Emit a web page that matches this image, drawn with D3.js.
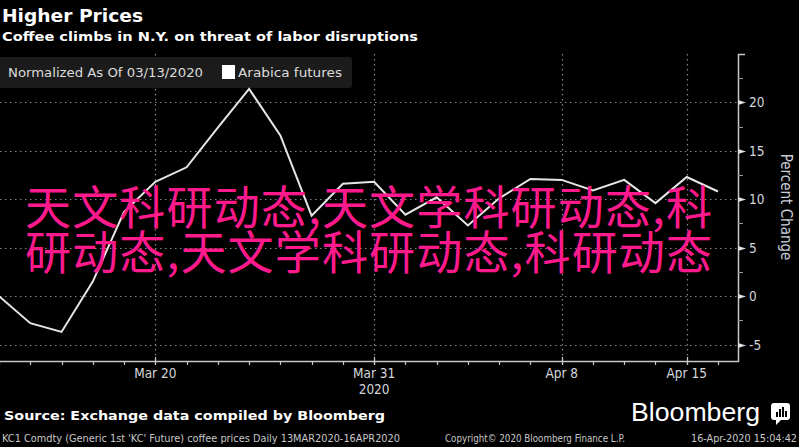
<!DOCTYPE html>
<html>
<head>
<meta charset="utf-8">
<script src="https://cdn.jsdelivr.net/npm/d3@7"></script>
<style>
  html, body { margin: 0; padding: 0; background: #000; }
  body { position: relative; width: 799px; height: 447px; overflow: hidden; }
  svg { display: block; position: absolute; left: 0; top: 0; }
</style>
</head>
<body>
<svg id="chart" width="799" height="447"></svg>
<script>
// ---- data ----
const dates = ["2020-03-13","2020-03-16","2020-03-17","2020-03-18","2020-03-19","2020-03-20",
  "2020-03-23","2020-03-24","2020-03-25","2020-03-26","2020-03-27","2020-03-30","2020-03-31",
  "2020-04-01","2020-04-02","2020-04-03","2020-04-06","2020-04-07","2020-04-08","2020-04-09",
  "2020-04-13","2020-04-14","2020-04-15","2020-04-16"];
const arabica = [0, -2.8, -3.7, 1.5, 8.7, 11.8, 13.3, 17.4, 21.4, 16.6, 8.3, 11.6, 11.8,
  8.4, 10.2, 7.3, 10.1, 12.1, 12.0, 10.9, 12.0, 9.6, 12.3, 10.8];
const xMajorDates = ["2020-03-20","2020-03-31","2020-04-08","2020-04-15"];
const xMajorLabels = ["Mar 20","Mar 31","Apr 8","Apr 15"];
const yMajorTicks = [-5, 0, 5, 10, 15, 20];
const yMinorTicks = [-2.5, 2.5, 7.5, 12.5, 17.5, 22.5];
const yDomain = [-6.6, 25];
const overlayLines = ["天文科研动态,天文学科研动态,科", "研动态,天文学科研动态,科研动态"];

const svg = d3.select("#chart");
const W = 799, H = 447;
const plotLeft = 0, plotRight = 738, plotTop = 54, plotBottom = 361;

svg.append("rect").attr("width", W).attr("height", H).attr("fill", "#000");

const x = d3.scalePoint().domain(dates).range([-1, 718]);
const y = d3.scaleLinear().domain(yDomain).range([plotBottom - 1, plotTop]);

const condensed = "'Liberation Sans Narrow','DejaVu Sans Condensed','Roboto Condensed','Liberation Sans',sans-serif";
const tahoma = "'DejaVu Sans','Noto Sans',sans-serif";

// ---- gridlines ----
const grid = svg.append("g");
grid.selectAll("line.h").data(yMajorTicks).join("line")
  .attr("x1", plotLeft).attr("x2", plotRight)
  .attr("y1", d => Math.round(y(d)) + 0.5).attr("y2", d => Math.round(y(d)) + 0.5)
  .attr("stroke", "#858585").attr("stroke-width", 1.2).attr("stroke-dasharray", "1.5,3.5");
grid.selectAll("line.v").data(xMajorDates).join("line")
  .attr("x1", d => Math.round(x(d)) + 0.5).attr("x2", d => Math.round(x(d)) + 0.5)
  .attr("y1", plotTop).attr("y2", plotBottom)
  .attr("stroke", "#858585").attr("stroke-width", 1.2).attr("stroke-dasharray", "1.5,3.5");

// ---- legend ----
const leg = svg.append("g");
leg.append("rect").attr("x", -6).attr("y", 57).attr("width", 358).attr("height", 31)
  .attr("rx", 3).attr("fill", "#1b1b1b");
leg.append("text").attr("x", 8).attr("y", 77).text("Normalized As Of 03/13/2020")
  .attr("fill", "#dcdcdc").attr("font-family", tahoma).attr("font-size", 13)
  .attr("textLength", 195).attr("lengthAdjust", "spacingAndGlyphs");
leg.append("rect").attr("x", 222).attr("y", 65).attr("width", 13).attr("height", 14)
  .attr("fill", "#ffffff");
leg.append("text").attr("x", 238).attr("y", 77).text("Arabica futures")
  .attr("fill", "#dcdcdc").attr("font-family", tahoma).attr("font-size", 13)
  .attr("textLength", 104).attr("lengthAdjust", "spacingAndGlyphs");

// ---- line ----
const line = d3.line().x((d, i) => x(dates[i])).y(d => y(d));
svg.append("path").datum(arabica).attr("d", line)
  .attr("fill", "none").attr("stroke", "#e6e6e6").attr("stroke-width", 2)
  .attr("stroke-linejoin", "miter");

// ---- x axis ----
const axCol = "#c8c8c8";
svg.append("line").attr("x1", plotLeft).attr("x2", plotRight + 0.5)
  .attr("y1", plotBottom + 0.5).attr("y2", plotBottom + 0.5)
  .attr("stroke", axCol).attr("stroke-width", 1.5);
svg.append("g").selectAll("line").data(dates).join("line")
  .attr("x1", d => Math.round(x(d)) + 0.5).attr("x2", d => Math.round(x(d)) + 0.5)
  .attr("y1", plotBottom).attr("y2", plotBottom + 4)
  .attr("stroke", axCol).attr("stroke-width", 1.2);
svg.append("g").selectAll("line").data(xMajorDates).join("line")
  .attr("x1", d => Math.round(x(d)) + 0.5).attr("x2", d => Math.round(x(d)) + 0.5)
  .attr("y1", plotBottom - 4).attr("y2", plotBottom + 4)
  .attr("stroke", axCol).attr("stroke-width", 1.2);
svg.append("g").selectAll("text").data(xMajorDates).join("text")
  .attr("x", d => x(d)).attr("y", 378).attr("text-anchor", "middle")
  .text((d, i) => xMajorLabels[i])
  .attr("fill", "#d4d6dc").attr("font-family", condensed).attr("font-size", 13.5);
svg.append("text").attr("x", x("2020-03-31")).attr("y", 394).attr("text-anchor", "middle")
  .text("2020").attr("fill", "#d4d6dc").attr("font-family", condensed).attr("font-size", 13.5);

// ---- y axis (right) ----
svg.append("line").attr("x1", plotRight + 0.5).attr("x2", plotRight + 0.5)
  .attr("y1", plotTop).attr("y2", plotBottom + 1)
  .attr("stroke", axCol).attr("stroke-width", 1.5);
svg.append("line").attr("x1", plotRight).attr("x2", plotRight + 7)
  .attr("y1", plotTop + 0.5).attr("y2", plotTop + 0.5)
  .attr("stroke", axCol).attr("stroke-width", 1.5);
svg.append("g").selectAll("line").data(yMinorTicks).join("line")
  .attr("x1", plotRight).attr("x2", plotRight + 5)
  .attr("y1", d => Math.round(y(d)) + 0.5).attr("y2", d => Math.round(y(d)) + 0.5)
  .attr("stroke", "#9a9a9a").attr("stroke-width", 1);
svg.append("g").selectAll("path").data(yMajorTicks).join("path")
  .attr("d", d => {
    const yy = Math.round(y(d)) + 0.5;
    return `M${plotRight},${yy - 2.5}L${plotRight + 8},${yy}L${plotRight},${yy + 2.5}Z`;
  })
  .attr("fill", "#e0e0e0");
svg.append("g").selectAll("text").data(yMajorTicks).join("text")
  .attr("x", 749).attr("y", d => y(d) + 5).text(d => d)
  .attr("fill", "#d4d6dc").attr("font-family", condensed).attr("font-size", 13.5);
svg.append("text").attr("transform", "translate(781,207) rotate(90)")
  .attr("text-anchor", "middle").text("Percent Change")
  .attr("fill", "#c8ccd6").attr("font-family", condensed).attr("font-size", 15);

// ---- titles ----
svg.append("text").attr("x", 2).attr("y", 22).text("Higher Prices")
  .attr("fill", "#ffffff").attr("font-family", tahoma).attr("font-weight", "bold")
  .attr("font-size", 17).attr("textLength", 141).attr("lengthAdjust", "spacingAndGlyphs");
svg.append("text").attr("x", 2).attr("y", 41).text("Coffee climbs in N.Y. on threat of labor disruptions")
  .attr("fill", "#ffffff").attr("font-family", tahoma).attr("font-weight", "bold")
  .attr("font-size", 13).attr("textLength", 416).attr("lengthAdjust", "spacingAndGlyphs");

// ---- footer ----
svg.append("text").attr("x", 4).attr("y", 420).text("Source: Exchange data compiled by Bloomberg")
  .attr("fill", "#ffffff").attr("font-family", tahoma).attr("font-weight", "bold")
  .attr("font-size", 13).attr("textLength", 381).attr("lengthAdjust", "spacingAndGlyphs");
svg.append("text").attr("x", 2).attr("y", 442)
  .text("KC1 Comdty (Generic 1st 'KC' Future) coffee prices  Daily 13MAR2020-16APR2020")
  .attr("fill", "#c8c8c8").attr("font-family", condensed).attr("font-size", 10)
  .attr("textLength", 398).attr("lengthAdjust", "spacingAndGlyphs");
svg.append("text").attr("x", 445).attr("y", 442).text("Copyright\u00A9 2020 Bloomberg Finance L.P.")
  .attr("fill", "#c8c8c8").attr("font-family", condensed).attr("font-size", 10)
  .attr("textLength", 180).attr("lengthAdjust", "spacingAndGlyphs");
svg.append("text").attr("x", 797).attr("y", 442).attr("text-anchor", "end").text("16-Apr-2020 15:04:42")
  .attr("fill", "#c8c8c8").attr("font-family", condensed).attr("font-size", 10)
  .attr("textLength", 106).attr("lengthAdjust", "spacingAndGlyphs");
svg.append("text").attr("x", 631).attr("y", 421).text("Bloomberg")
  .attr("fill", "#ffffff").attr("font-family", "'Liberation Sans','Noto Sans',sans-serif")
  .attr("font-size", 25).attr("textLength", 129).attr("lengthAdjust", "spacingAndGlyphs");
const logo = svg.append("g").attr("transform", "translate(771,403)");
logo.append("rect").attr("width", 19).attr("height", 17).attr("rx", 3).attr("fill", "#ffffff");
logo.append("path").attr("d", "M5,17L5,22L10,17Z").attr("fill", "#ffffff");
[[5,9],[8,6],[11,4],[14,8]].forEach(([bx, by]) =>
  logo.append("rect").attr("x", bx).attr("y", by).attr("width", 2).attr("height", 14 - by).attr("fill", "#000"));

// ---- overlay text: one justified block with two lines ----
const pink = "#fe1a8c";
const ov = d3.select("body").append("div")
  .style("position", "absolute").style("left", "25px").style("top", "181.5px")
  .style("width", "687px")
  .style("font-family", "'Noto Sans CJK SC','Noto Sans CJK JP',sans-serif")
  .style("font-size", "46px").style("line-height", "45px")
  .style("color", pink).style("white-space", "nowrap")
  .style("text-align", "justify").style("text-align-last", "justify")
  .style("text-justify", "inter-character");
overlayLines.forEach((t, i) => {
  if (i > 0) ov.append("br");
  ov.append(() => document.createTextNode(t));
});
</script>
</body>
</html>
